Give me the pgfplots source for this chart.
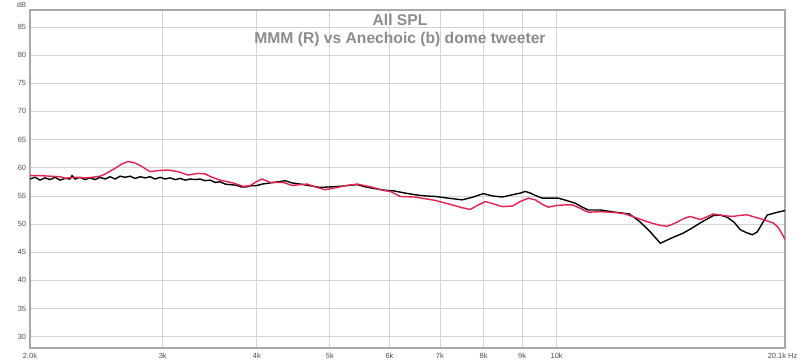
\documentclass[border=0pt]{standalone}
\usepackage{pgfplots}
\pgfplotsset{compat=1.18}
\usepackage{fontspec}
\setmainfont{Liberation Sans}
\definecolor{splred}{HTML}{E8204E}
\definecolor{gridgray}{HTML}{D4D4D4}
\definecolor{framegray}{HTML}{A8A8A8}
\definecolor{titlegray}{HTML}{8C8C8C}
\definecolor{labgray}{HTML}{505050}
\begin{document}
\begin{tikzpicture}[x=1bp,y=1bp]
\path[use as bounding box] (-30,-15) rectangle (770,348);
\begin{axis}[
  at={(0,0)}, anchor=south west,
  scale only axis, width=755bp, height=338bp,
  xmode=log, xmin=2000, xmax=20100, ymin=28, ymax=88,
  xtick={2000,3000,4000,5000,6000,7000,8000,9000,10000},
  xticklabels={2.0k,3k,4k,5k,6k,7k,8k,9k,10k},
  ytick={30,35,...,85},
  major tick length=0pt, minor tick num=0,
  tick style={draw=none},
  grid=major, major grid style={draw=gridgray, line width=0.75bp},
  axis line style={draw=framegray, line width=1.5bp},
  /pgf/number format/assume math mode=true,
  tick label style={font=\fontsize{7.5}{9}\selectfont, text=labgray, inner sep=0pt},
  yticklabel style={xshift=-3.7bp},
  xticklabel style={yshift=-5bp},
]
\addplot[black, line width=1.4bp] coordinates {
(2000,58.0) (2031,58.3) (2062,57.8) (2094,58.2) (2126,57.9) (2159,58.3) (2192,57.8) (2226,58.1)
(2260,58.0) (2274,58.6) (2295,58.0) (2330,58.3) (2366,57.9) (2403,58.2) (2440,57.9) (2477,58.3)
(2516,58.0) (2554,58.4) (2594,58.0) (2634,58.5) (2674,58.3) (2715,58.5) (2757,58.1) (2800,58.4)
(2843,58.2) (2887,58.4) (2931,58.0) (2976,58.3) (3022,58.0) (3069,58.2) (3116,57.9) (3164,58.1)
(3213,57.8) (3262,58.0) (3313,57.9) (3364,58.0) (3415,57.7) (3468,57.8) (3521,57.4) (3576,57.5)
(3631,57.1) (3687,57.0) (3755,56.9) (3813,56.6) (3872,56.6) (3931,56.8) (3992,56.8) (4066,57.1)
(4166,57.3) (4270,57.5) (4362,57.7) (4456,57.3) (4567,57.1) (4708,56.8) (4855,56.5) (5005,56.6)
(5161,56.7) (5321,56.9) (5436,57.0) (5571,56.6) (5761,56.25) (5922,56.0) (6069,55.9) (6296,55.5)
(6491,55.2) (6693,55.0) (6901,54.9) (7180,54.6) (7494,54.3) (7751,54.8) (7992,55.4) (8215,55.0)
(8470,54.8) (8733,55.2) (8949,55.5) (9087,55.8) (9227,55.5) (9398,55.0) (9572,54.6) (9809,54.6)
(10051,54.6) (10300,54.2) (10588,53.7) (10817,53.0) (11017,52.5) (11429,52.5) (11965,52.1) (12487,51.8)
(12875,50.5) (13275,48.8) (13729,46.6) (14199,47.5) (14725,48.4) (15136,49.3) (15510,50.2) (16139,51.5)
(16489,51.6) (16845,51.2) (17210,50.3) (17529,49.0) (17853,48.5) (18184,48.1) (18464,48.6) (18691,49.8)
(19037,51.6) (19509,52.0) (20100,52.4)
};
\addplot[splred, line width=1.4bp] coordinates {
(2000,58.6) (2062,58.6) (2126,58.5) (2192,58.4) (2226,58.15) (2295,58.3) (2366,58.2) (2418,58.3)
(2477,58.5) (2516,58.9) (2594,59.9) (2650,60.7) (2699,61.1) (2749,60.9) (2800,60.4) (2887,59.3)
(2958,59.5) (3050,59.6) (3145,59.3) (3242,58.7) (3343,59.0) (3415,58.9) (3489,58.3) (3576,57.8)
(3721,57.3) (3836,56.7) (3919,56.8) (3992,57.5) (4066,58.0) (4166,57.4) (4335,57.4) (4456,56.85)
(4567,57.0) (4665,57.1) (4810,56.5) (4929,56.1) (5114,56.5) (5240,56.8) (5436,57.1) (5571,56.8)
(5709,56.5) (5868,56.0) (6013,55.8) (6200,54.9) (6491,54.8) (6693,54.5) (6901,54.2) (7224,53.5)
(7494,52.9) (7680,52.6) (7846,53.3) (8041,54.0) (8240,53.6) (8470,53.1) (8733,53.2) (8949,54.0)
(9170,54.6) (9369,54.3) (9572,53.5) (9749,53.0) (9990,53.3) (10269,53.4) (10491,53.4) (10751,52.8)
(11017,52.1) (11429,52.2) (11965,52.05) (12337,51.8) (12758,51.1) (13275,50.3) (13687,49.8) (14026,49.6)
(14374,50.2) (14770,51.0) (15043,51.35) (15510,50.8) (15846,51.3) (16139,51.8) (16641,51.5) (17157,51.35)
(17529,51.55) (17908,51.65) (18351,51.2) (18806,50.8) (19390,50.2) (19688,49.4) (20100,47.3)
};
\end{axis}
\node[anchor=base, font=\bfseries\fontsize{15.7}{18}\selectfont, text=titlegray] at (370,323) {All SPL};
\node[anchor=base, font=\bfseries\fontsize{15.7}{18}\selectfont, text=titlegray] at (370,305) {MMM (R) vs Anechoic (b) dome tweeter};
\node[anchor=base, font=\fontsize{7.5}{9}\selectfont, text=labgray, inner sep=0pt] at (-8.5,341) {dB};
\node[anchor=north, font=\fontsize{7.5}{9}\selectfont, text=labgray, inner sep=0pt] at (752.5,-5) {20.1k Hz};
\end{tikzpicture}
\end{document}
